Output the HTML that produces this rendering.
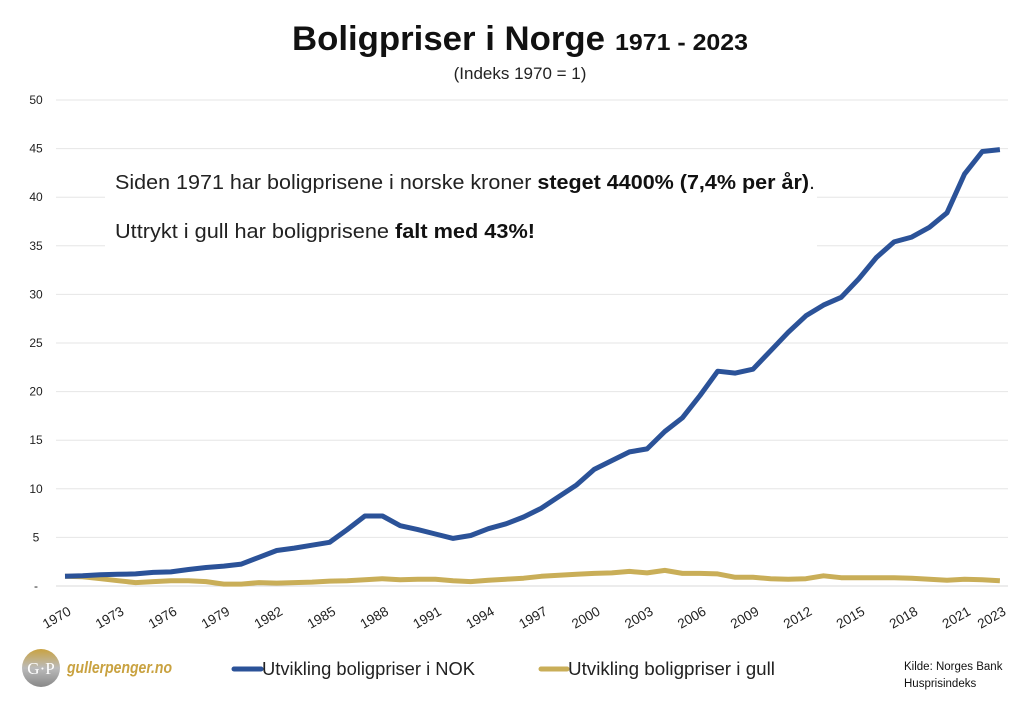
<!DOCTYPE html>
<html><head><meta charset="utf-8"><style>
body{margin:0;background:#fff;width:1024px;height:715px;overflow:hidden;font-family:"Liberation Sans",sans-serif}
</style></head><body>
<svg id="s" width="1024" height="715" xmlns="http://www.w3.org/2000/svg" font-family="Liberation Sans, sans-serif">
<text x="292" y="50" font-weight="bold" fill="#111" font-size="34" textLength="313" lengthAdjust="spacingAndGlyphs">Boligpriser i Norge</text>
<text x="615" y="50" font-weight="bold" fill="#111" font-size="23" textLength="133" lengthAdjust="spacingAndGlyphs">1971 - 2023</text>
<text x="520" y="79" text-anchor="middle" font-size="17" fill="#222">(Indeks 1970 = 1)</text>
<g id="grid"></g>
<rect x="105" y="160" width="712" height="104" fill="#fff"/>
<text x="115" y="189" font-size="20" fill="#222" textLength="700" lengthAdjust="spacingAndGlyphs">Siden 1971 har boligprisene i norske kroner <tspan font-weight="bold" fill="#111">steget 4400% (7,4% per år)</tspan>.</text>
<text x="115" y="238" font-size="20" fill="#222" textLength="420" lengthAdjust="spacingAndGlyphs">Uttrykt i gull har boligprisene <tspan font-weight="bold" fill="#111">falt med 43%!</tspan></text>
<polyline id="g" fill="none" stroke="#c9ae58" stroke-width="5" stroke-linejoin="round"/>
<polyline id="b" fill="none" stroke="#2b5298" stroke-width="5" stroke-linejoin="round"/>
<g id="xl" font-size="13.5" fill="#222"></g>
<defs><linearGradient id="lg" x1="0" y1="0" x2="0" y2="1"><stop offset="0" stop-color="#c9a240"/><stop offset="0.5" stop-color="#bbb"/><stop offset="1" stop-color="#888"/></linearGradient></defs>
<circle cx="41" cy="668" r="19" fill="url(#lg)"/>
<text x="41" y="674" text-anchor="middle" font-family="Liberation Serif, serif" font-size="17" fill="#fff">G·P</text>
<text x="67" y="673" font-size="17" font-style="italic" font-weight="bold" fill="#c9a240" textLength="105" lengthAdjust="spacingAndGlyphs">gullerpenger.no</text>
<line x1="234" y1="669" x2="261" y2="669" stroke="#2b5298" stroke-width="5" stroke-linecap="round"/>
<text x="262" y="675" font-size="18" fill="#222" textLength="213" lengthAdjust="spacingAndGlyphs">Utvikling boligpriser i NOK</text>
<line x1="541" y1="669" x2="567" y2="669" stroke="#c9ae58" stroke-width="5" stroke-linecap="round"/>
<text x="568" y="675" font-size="18" fill="#222" textLength="207" lengthAdjust="spacingAndGlyphs">Utvikling boligpriser i gull</text>
<text x="904" y="670" font-size="11.5" fill="#111">Kilde: Norges Bank</text>
<text x="904" y="687" font-size="11.5" fill="#111">Husprisindeks</text>
</svg>
<script>
var ns="http://www.w3.org/2000/svg";
function Y(v){return 586-v*9.72}
function X(yr){return 65+(yr-1970)*17.64}
var grid=document.getElementById('grid');
for(var v=0;v<=50;v+=5){
 var l=document.createElementNS(ns,'line');l.setAttribute('x1',56);l.setAttribute('x2',1008);l.setAttribute('y1',Y(v));l.setAttribute('y2',Y(v));l.setAttribute('stroke',v==0?'#d9d9d9':'#e6e6e6');l.setAttribute('stroke-width',1);grid.appendChild(l);
 var t=document.createElementNS(ns,'text');t.setAttribute('x',36);t.setAttribute('y',Y(v)+4);t.setAttribute('text-anchor','middle');t.setAttribute('font-size','12');t.setAttribute('fill','#222');t.textContent=v==0?'-':v;grid.appendChild(t);
}
var b=[1,1.05,1.15,1.2,1.25,1.4,1.45,1.7,1.9,2.05,2.25,2.95,3.65,3.9,4.2,4.5,5.8,7.2,7.2,6.2,5.8,5.35,4.9,5.2,5.9,6.4,7.1,8.0,9.2,10.4,12.0,12.9,13.8,14.1,15.9,17.3,19.6,22.1,21.9,22.3,24.2,26.1,27.8,28.9,29.7,31.6,33.8,35.4,35.9,36.9,38.4,42.4,44.7,44.9];
var g=[1,0.95,0.75,0.55,0.35,0.45,0.55,0.55,0.45,0.2,0.2,0.35,0.3,0.35,0.4,0.5,0.55,0.65,0.75,0.65,0.7,0.7,0.55,0.45,0.6,0.7,0.8,1.0,1.1,1.2,1.3,1.35,1.5,1.35,1.6,1.3,1.3,1.25,0.9,0.9,0.75,0.7,0.75,1.05,0.85,0.85,0.85,0.85,0.8,0.7,0.6,0.7,0.65,0.55];
function pts(a){return a.map(function(v,i){return X(1970+i).toFixed(1)+','+Y(v).toFixed(1)}).join(' ')}
document.getElementById('b').setAttribute('points',pts(b));
document.getElementById('g').setAttribute('points',pts(g));
var xl=document.getElementById('xl');
var yrs=[];for(var y=1970;y<=2021;y+=3)yrs.push(y);yrs.push(2023);
yrs.forEach(function(y){var t=document.createElementNS(ns,'text');var x=X(y)+7,yy=614;t.setAttribute('x',x);t.setAttribute('y',yy);t.setAttribute('text-anchor','end');t.setAttribute('transform','rotate(-30 '+x+' '+yy+')');t.textContent=y;xl.appendChild(t);});
</script>
</body></html>
